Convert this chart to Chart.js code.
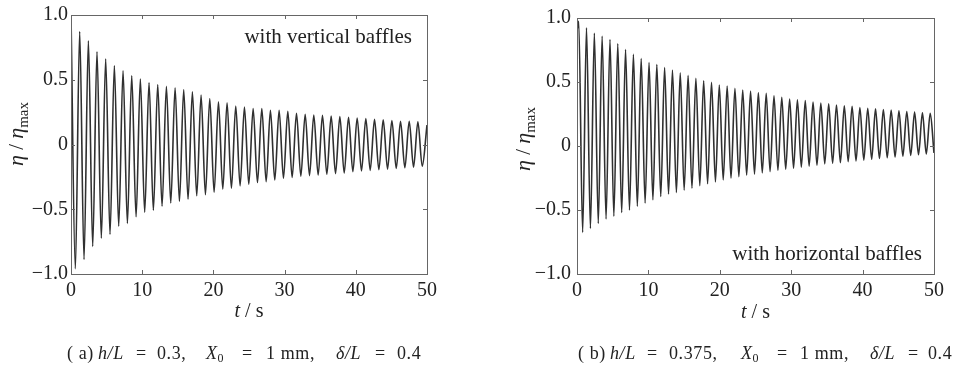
<!DOCTYPE html>
<html>
<head>
<meta charset="utf-8">
<script src="https://cdn.jsdelivr.net/npm/chart.js@4.4.1/dist/chart.umd.min.js"></script>
<style>
  body { margin: 0; background: #fff; width: 956px; height: 369px; overflow: hidden; position: relative; font-family: "Liberation Serif", serif; color: #222; }
  canvas { position: absolute; top: 0; }
  #chartA { left: 0; }
  #chartB { left: 478px; }
  .cap span { position: absolute; top: 344px; font-size: 18px; line-height: 19px; white-space: pre; letter-spacing: 0.6px; }
  .cap sub { font-size: 12px; vertical-align: -3px; line-height: 0; letter-spacing: 0; }
</style>
</head>
<body>
<canvas id="chartA" width="478" height="369"></canvas>
<canvas id="chartB" width="478" height="369"></canvas>
<div class="cap">
  <span style="left:67px">( a)</span><span style="left:98px"><i>h/L</i></span><span style="left:136px">=</span>
  <span style="left:157px">0.3,</span><span style="left:206px"><i>X</i><sub>0</sub></span><span style="left:242px">=</span>
  <span style="left:266px">1 mm,</span><span style="left:336px"><i>δ/L</i></span><span style="left:375px">=</span><span style="left:397px">0.4</span>
</div>
<div class="cap">
  <span style="left:578px">( b)</span><span style="left:610px"><i>h/L</i></span><span style="left:647px">=</span>
  <span style="left:669px">0.375,</span><span style="left:741px"><i>X</i><sub>0</sub></span><span style="left:777px">=</span>
  <span style="left:800px">1 mm,</span><span style="left:870px"><i>δ/L</i></span><span style="left:908px">=</span><span style="left:928px">0.4</span>
</div>
<script>
// axes
const xTicks = [0, 10, 20, 30, 40, 50];
const xTickLabels = ['0', '10', '20', '30', '40', '50'];
const yTicks = [-1, -0.5, 0, 0.5, 1];
const yTickLabels = ['\u22121.0', '\u22120.5', '0', '0.5', '1.0'];

// (a) vertical baffles : crests / troughs
const aPeakT = [0, 1.22, 2.44, 3.65, 4.87, 6.09, 7.31, 8.53, 9.74, 10.96, 12.18, 13.40, 14.62, 15.83, 17.05, 18.27, 19.49, 20.71, 21.92, 23.14,
  24.36, 25.58, 26.80, 28.01, 29.23, 30.45, 31.67, 32.89, 34.10, 35.32, 36.54, 37.76, 38.98, 40.19, 41.41, 42.63, 43.85, 45.07, 46.28, 47.50, 48.72];
const aPeakV = [1.0, 0.873, 0.80, 0.716, 0.66, 0.607, 0.569, 0.53, 0.505, 0.477, 0.462, 0.449, 0.437, 0.424, 0.406, 0.381, 0.355, 0.33, 0.322, 0.297,
  0.289, 0.277, 0.277, 0.264, 0.264, 0.256, 0.241, 0.234, 0.228, 0.226, 0.22, 0.215, 0.21, 0.205, 0.20, 0.195, 0.19, 0.185, 0.18, 0.18, 0.175];
const aTroughT = [0.61, 1.83, 3.05, 4.26, 5.48, 6.70, 7.92, 9.14, 10.35, 11.57, 12.79, 14.01, 15.23, 16.44, 17.66, 18.88, 20.10, 21.32, 22.53, 23.75,
  24.97, 26.19, 27.41, 28.62, 29.84, 31.06, 32.28, 33.50, 34.71, 35.93, 37.15, 38.37, 39.59, 40.80, 42.02, 43.24, 44.46, 45.68, 46.89, 48.11, 49.33];
const aTroughV = [-0.96, -0.888, -0.787, -0.723, -0.693, -0.63, -0.609, -0.558, -0.523, -0.508, -0.477, -0.452, -0.44, -0.423, -0.396, -0.388, -0.37, -0.345, -0.338, -0.32,
  -0.307, -0.294, -0.287, -0.274, -0.261, -0.254, -0.244, -0.24, -0.236, -0.23, -0.225, -0.22, -0.21, -0.205, -0.20, -0.195, -0.19, -0.185, -0.18, -0.175, -0.168];
const aEnds = [[50, 0.15]];

// (b) horizontal baffles
const bPeakT = [0.24, 1.33, 2.43, 3.52, 4.62, 5.71, 6.80, 7.90, 8.99, 10.09, 11.18, 12.27, 13.37, 14.46, 15.56, 16.65, 17.74, 18.84, 19.93, 21.03,
  22.12, 23.21, 24.31, 25.40, 26.50, 27.59, 28.68, 29.78, 30.87, 31.97, 33.06, 34.15, 35.25, 36.34, 37.44, 38.53, 39.62, 40.72, 41.81, 42.91,
  44.00, 45.09, 46.19, 47.28, 48.38, 49.47];
const bPeakV = [0.974, 0.923, 0.881, 0.858, 0.832, 0.799, 0.753, 0.716, 0.683, 0.652, 0.637, 0.613, 0.593, 0.572, 0.552, 0.528, 0.51, 0.497, 0.477, 0.469,
  0.451, 0.438, 0.43, 0.418, 0.412, 0.392, 0.381, 0.366, 0.361, 0.356, 0.343, 0.335, 0.33, 0.32, 0.315, 0.31, 0.30, 0.295, 0.29, 0.285,
  0.28, 0.275, 0.27, 0.265, 0.26, 0.255];
const bTroughT = [0.79, 1.88, 2.98, 4.07, 5.16, 6.26, 7.35, 8.45, 9.54, 10.63, 11.73, 12.82, 13.92, 15.01, 16.10, 17.20, 18.29, 19.39, 20.48, 21.57,
  22.67, 23.76, 24.86, 25.95, 27.04, 28.14, 29.23, 30.33, 31.42, 32.51, 33.61, 34.70, 35.80, 36.89, 37.98, 39.08, 40.17, 41.27, 42.36, 43.45,
  44.55, 45.64, 46.74, 47.83, 48.92];
const bTroughV = [-0.675, -0.644, -0.605, -0.57, -0.548, -0.52, -0.50, -0.47, -0.445, -0.42, -0.395, -0.375, -0.364, -0.345, -0.33, -0.31, -0.295, -0.28, -0.265, -0.252,
  -0.24, -0.228, -0.22, -0.21, -0.2, -0.19, -0.182, -0.173, -0.165, -0.157, -0.15, -0.14, -0.135, -0.13, -0.123, -0.117, -0.11, -0.104, -0.098, -0.092,
  -0.086, -0.08, -0.074, -0.068, -0.062];
const bEnds = [[0, 0.90], [50, -0.055]];

function series(pt, pv, tt, tv, ends) {
  const pts = [];
  pt.forEach((t, i) => pts.push({ x: t, y: pv[i] }));
  tt.forEach((t, i) => pts.push({ x: t, y: tv[i] }));
  ends.forEach(e => pts.push({ x: e[0], y: e[1] }));
  return pts.sort((a, b) => a.x - b.x);
}

const FONT = '"Liberation Serif", "Times New Roman", serif';
const INK = '#222';

// box, inward ticks, axis titles and the note
const frame = {
  id: 'frame',
  afterDatasetsDraw(chart, args, o) {
    const { ctx, chartArea: a, scales: { x, y } } = chart;
    ctx.save();
    ctx.strokeStyle = '#666';
    ctx.lineWidth = 1;
    ctx.strokeRect(a.left + 0.5, a.top + 0.5, a.right - a.left, a.bottom - a.top);
    ctx.beginPath();
    xTicks.forEach(v => {
      const px = Math.round(x.getPixelForValue(v)) + 0.5;
      ctx.moveTo(px, a.top); ctx.lineTo(px, a.top + 4);
      ctx.moveTo(px, a.bottom); ctx.lineTo(px, a.bottom - 4);
    });
    yTicks.forEach(v => {
      const py = Math.round(y.getPixelForValue(v)) + 0.5;
      ctx.moveTo(a.left, py); ctx.lineTo(a.left + 4, py);
      ctx.moveTo(a.right, py); ctx.lineTo(a.right - 4, py);
    });
    ctx.stroke();

    ctx.fillStyle = INK;
    // x title: t / s
    const cx = (a.left + a.right) / 2;
    ctx.font = 'italic 20px ' + FONT;
    const w1 = ctx.measureText('t').width;
    ctx.font = '20px ' + FONT;
    const w2 = ctx.measureText(' / s').width;
    let sx = cx - (w1 + w2) / 2;
    ctx.textBaseline = 'alphabetic';
    ctx.textAlign = 'left';
    ctx.font = 'italic 20px ' + FONT;
    ctx.fillText('t', sx, o.xTitleY);
    ctx.font = '20px ' + FONT;
    ctx.fillText(' / s', sx + w1, o.xTitleY);

    // y title: eta / eta_max
    const parts = [
      ['\u03b7', 'italic 22px ', 0],
      [' / ', '21px ', 0],
      ['\u03b7', 'italic 22px ', 0],
      ['max', '15px ', 5]
    ];
    let tw = 0;
    parts.forEach(p => { ctx.font = p[1] + FONT; p.push(ctx.measureText(p[0]).width); tw += p[3]; });
    ctx.translate(o.yTitleX, o.yTitleY);
    ctx.rotate(-Math.PI / 2);
    let px = -tw / 2;
    parts.forEach(p => {
      ctx.font = p[1] + FONT;
      ctx.fillText(p[0], px, p[2]);
      px += p[3];
    });
    ctx.restore();

    ctx.save();
    ctx.fillStyle = INK;
    ctx.font = '21px ' + FONT;
    ctx.textAlign = 'right';
    ctx.textBaseline = 'alphabetic';
    ctx.fillText(o.note, o.noteX, o.noteY);
    ctx.restore();
  }
};

function makeChart(id, pts, pad, yWidth, yPad, frameOpts) {
  return new Chart(document.getElementById(id), {
    type: 'line',
    data: {
      datasets: [{
        data: pts,
        borderColor: '#303030',
        borderWidth: 1.6,
        pointRadius: 0,
        cubicInterpolationMode: 'monotone',
        fill: false
      }]
    },
    options: {
      responsive: false,
      animation: false,
      layout: { padding: pad },
      plugins: { legend: { display: false }, tooltip: { enabled: false }, frame: frameOpts },
      scales: {
        x: {
          type: 'linear', min: 0, max: 50,
          border: { display: false },
          grid: { display: false, drawTicks: false },
          ticks: {
            stepSize: 10, color: INK, padding: 5, maxRotation: 0,
            font: { family: FONT, size: 20 },
            callback: v => xTickLabels[xTicks.indexOf(v)]
          },
          afterFit: s => { s.height = 95; }
        },
        y: {
          min: -1, max: 1,
          border: { display: false },
          grid: { display: false, drawTicks: false },
          ticks: {
            stepSize: 0.5, color: INK, padding: yPad,
            font: { family: FONT, size: 20 },
            callback: v => yTickLabels[yTicks.indexOf(v)]
          },
          afterFit: s => { s.width = yWidth; }
        }
      }
    },
    plugins: [frame]
  });
}

makeChart('chartA', series(aPeakT, aPeakV, aTroughT, aTroughV, aEnds),
  { top: 12, right: 51, left: 0, bottom: 0 }, 71, 3,
  { note: 'with vertical baffles', noteX: 412, noteY: 43, xTitleY: 317, yTitleX: 23, yTitleY: 134 });

makeChart('chartB', series(bPeakT, bPeakV, bTroughT, bTroughV, bEnds),
  { top: 15, right: 22, left: 0, bottom: 0 }, 99, 6,
  { note: 'with horizontal baffles', noteX: 444, noteY: 260, xTitleY: 318, yTitleX: 52, yTitleY: 139 });
</script>
</body>
</html>
